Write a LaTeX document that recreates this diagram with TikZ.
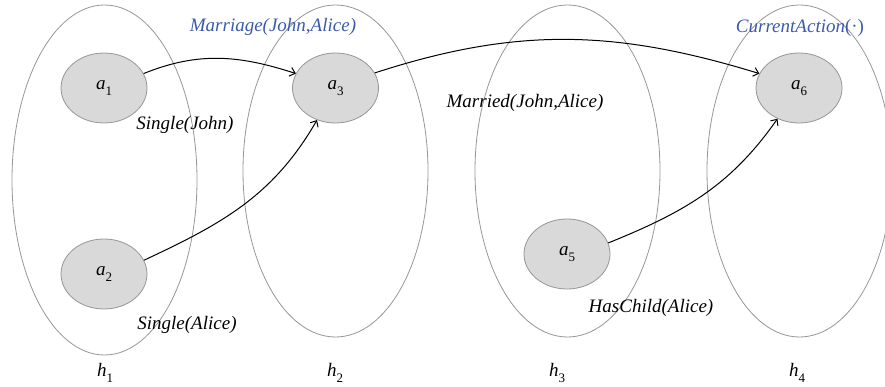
\documentclass[tikz,border=0pt]{standalone}
\usepackage{fontspec}
\setmainfont{Liberation Serif}
\usetikzlibrary{shapes.geometric,arrows.meta}
\definecolor{predblue}{RGB}{60,90,170}
\definecolor{nodefill}{RGB}{217,217,217}
\definecolor{rimgray}{RGB}{150,150,150}
\newcommand{\vsub}[2]{\textit{#1}\raisebox{-0.3em}{\fontsize{13}{13}\selectfont #2}}
\begin{document}
\begin{tikzpicture}[x=1pt,y=-1pt,
  every node/.style={font=\fontsize{19}{22}\selectfont},
  group/.style={draw=rimgray,line width=0.8pt,ellipse,minimum width=185,minimum height=332,inner sep=0pt},
  act/.style={draw=rimgray,line width=0.8pt,fill=nodefill,ellipse,minimum width=86,minimum height=70,inner sep=0pt},
  pred/.style={inner sep=0pt},
  link/.style={line width=1pt,-{Straight Barb[length=5pt,width=9pt]}}]
\useasboundingbox (0,0) rectangle (885,387);
\node[group,minimum height=350] (g1) at (104.5,180) {};
\node[group] (g2) at (335.5,171) {};
\node[group] (g3) at (567.5,171) {};
\node[group] (g4) at (799.5,171) {};
\node[act] (a1) at (104,88) {\vsub{a}{1}};
\node[act] (a3) at (335.5,88) {\vsub{a}{3}};
\node[act] (a6) at (799,88) {\vsub{a}{6}};
\node[act] (a2) at (104,274) {\vsub{a}{2}};
\node[act] (a5) at (567,254) {\vsub{a}{5}};
\node[pred,text=predblue] (m) at (273,27) {\textit{Marriage(John,Alice)}};
\node[pred,text=predblue] (c) at (800,28) {\textit{CurrentAction}(·)};
\node[pred] (sj) at (185,125) {\textit{Single(John)}};
\node[pred] (sa) at (187,325) {\textit{Single(Alice)}};
\node[pred] (mj) at (525,103) {\textit{Married(John,Alice)}};
\node[pred] (hc) at (651,308) {\textit{HasChild(Alice)}};
\node (h1) at (105,373) {\vsub{h}{1}};
\node (h2) at (335,373) {\vsub{h}{2}};
\node (h3) at (557,373) {\vsub{h}{3}};
\node (h4) at (797,373) {\vsub{h}{4}};
\draw[link] (a1.20) to[out=22,in=162] (a3.160);
\draw[link] (a2.19) to[out=25,in=240] (a3.240);
\draw[link] (a3.21) to[out=18,in=163] (a6.160);
\draw[link] (a5.15) to[out=22,in=235] (a6.235);
\end{tikzpicture}
\end{document}
